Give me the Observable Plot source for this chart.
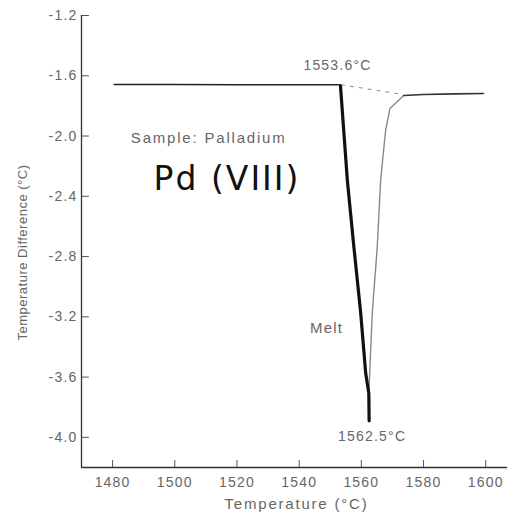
<!DOCTYPE html>
<html>
<head>
<meta charset="utf-8">
<script src="https://cdn.jsdelivr.net/npm/d3@7"></script>
<script src="https://cdn.jsdelivr.net/npm/@observablehq/plot@0.6"></script>
<style>
  html, body { margin: 0; padding: 0; background: #fff; }
  svg { display: block; }
</style>
</head>
<body>
<div id="chart"></div>
<script>
// Tick values
const xTicks = [1480, 1500, 1520, 1540, 1560, 1580, 1600];
const yTicks = [-1.2, -1.6, -2.0, -2.4, -2.8, -3.2, -3.6, -4.0];

// Baseline before melting
const baseX = [1480.5, 1500, 1520, 1540, 1553.3];
const baseY = [-1.658, -1.658, -1.659, -1.659, -1.66];

// Melting descent (endotherm)
const meltX = [1553.3, 1555.5, 1557.6, 1559.8, 1561.4, 1562.4, 1562.5];
const meltY = [-1.67, -2.295, -2.737, -3.177, -3.575, -3.708, -3.89];

// Return to baseline
const retX = [1562.4, 1563.5, 1565.1, 1566.2, 1567.8, 1569.2, 1573.6];
const retY = [-3.708, -3.177, -2.74, -2.295, -1.963, -1.817, -1.731];

// Baseline after melting
const afterX = [1573.6, 1580, 1590, 1599.3];
const afterY = [-1.731, -1.724, -1.72, -1.718];

// Extrapolated baseline (dashed)
const extX = [1553.6, 1573.6];
const extY = [-1.66, -1.725];

// Labels
const onset = {x: 1553.6, y: -1.66, text: "1553.6°C"};
const peak = {x: 1562.5, y: -3.89, text: "1562.5°C"};
const melt = {x: 1548.8, y: -3.277, text: "Melt"};
const sample = {x: 1510.9, y: -2.016, text: "Sample: Palladium"};
const hand = {x: 1516.8, y: -2.29, text: "Pd (VIII)"};
const xLabel = "Temperature (°C)";
const yLabel = "Temperature Difference (°C)";

const toPts = (xs, ys) => xs.map((x, i) => ({x, y: ys[i]}));
const font = "Liberation Sans, Arial, sans-serif";
const gray = "#666";
const tickShape = {draw(context, l) { context.moveTo(0, 0); context.lineTo(0, -l); }};

const chart = Plot.plot({
  width: 507,
  height: 520,
  marginLeft: 81,
  marginRight: 0,
  marginTop: 15,
  marginBottom: 53,
  style: {fontFamily: font, fontSize: "14px", background: "#fff"},
  x: {domain: [1470, 1607], axis: null},
  y: {domain: [-4.2, -1.2], axis: null},
  marks: [
    // tick labels
    Plot.text(yTicks, {y: d => d, text: d => d.toFixed(1), frameAnchor: "left", textAnchor: "end",
      dx: -4, fill: gray, fontSize: 14}),
    Plot.text(xTicks, {x: d => d, text: d => String(d), frameAnchor: "bottom", lineAnchor: "middle",
      dy: 15, fill: gray, fontSize: 14}),
    // inward ticks
    Plot.vector(yTicks, {y: d => d, frameAnchor: "left", length: 7, rotate: 90, anchor: "start",
      shape: tickShape, stroke: "#555", strokeWidth: 1}),
    Plot.vector(xTicks, {x: d => d, frameAnchor: "bottom", length: 7, rotate: 0, anchor: "start",
      shape: tickShape, stroke: "#555", strokeWidth: 1}),
    // axis lines
    Plot.ruleX([1470], {stroke: "#333", strokeWidth: 1.3}),
    Plot.ruleY([-4.2], {stroke: "#333", strokeWidth: 1.3}),
    // data
    Plot.line(toPts(extX, extY), {x: "x", y: "y", stroke: "#888", strokeWidth: 1, strokeDasharray: "3,6"}),
    Plot.line(toPts(baseX, baseY), {x: "x", y: "y", stroke: "#222", strokeWidth: 1.5}),
    Plot.line(toPts(retX, retY), {x: "x", y: "y", stroke: "#888", strokeWidth: 1.4}),
    Plot.line(toPts(afterX, afterY), {x: "x", y: "y", stroke: "#333", strokeWidth: 1.6}),
    Plot.line(toPts(meltX, meltY), {x: "x", y: "y", stroke: "#111", strokeWidth: 3.2}),
    // annotations
    Plot.text([onset], {x: "x", y: "y", text: "text", dx: -4, dy: -19, fill: gray, fontSize: 14}),
    Plot.text([peak], {x: "x", y: "y", text: "text", dx: 3, dy: 16, fill: gray, fontSize: 14}),
    Plot.text([melt], {x: "x", y: "y", text: "text", fill: gray, fontSize: 15}),
    Plot.text([sample], {x: "x", y: "y", text: "text", fill: gray, fontSize: 15}),
    Plot.text([hand], {x: "x", y: "y", text: "text", fill: "#111", fontSize: 33,
      fontFamily: "DejaVu Sans", fontWeight: "400"}),
    Plot.text([xLabel], {frameAnchor: "bottom", textAnchor: "middle", dx: 2, dy: 41, fill: gray, fontSize: 15}),
    Plot.text([yLabel], {frameAnchor: "left", textAnchor: "middle", rotate: -90, dx: -59, dy: 11,
      fill: gray, fontSize: 13, fontFamily: "Liberation Sans"})
  ]
});
const svg = d3.select(chart);
svg.selectAll("text").style("letter-spacing", "1.2px");
svg.selectAll("g[font-family='DejaVu Sans'] text").style("letter-spacing", "2px");
svg.selectAll("g[font-family='Liberation Sans'] text").style("letter-spacing", "0.5px");
svg.selectAll("text").filter(function() {
  const t = this.textContent;
  return t === sample.text || t === xLabel;
}).style("letter-spacing", "1.8px");
document.getElementById("chart").appendChild(chart);
</script>
</body>
</html>
